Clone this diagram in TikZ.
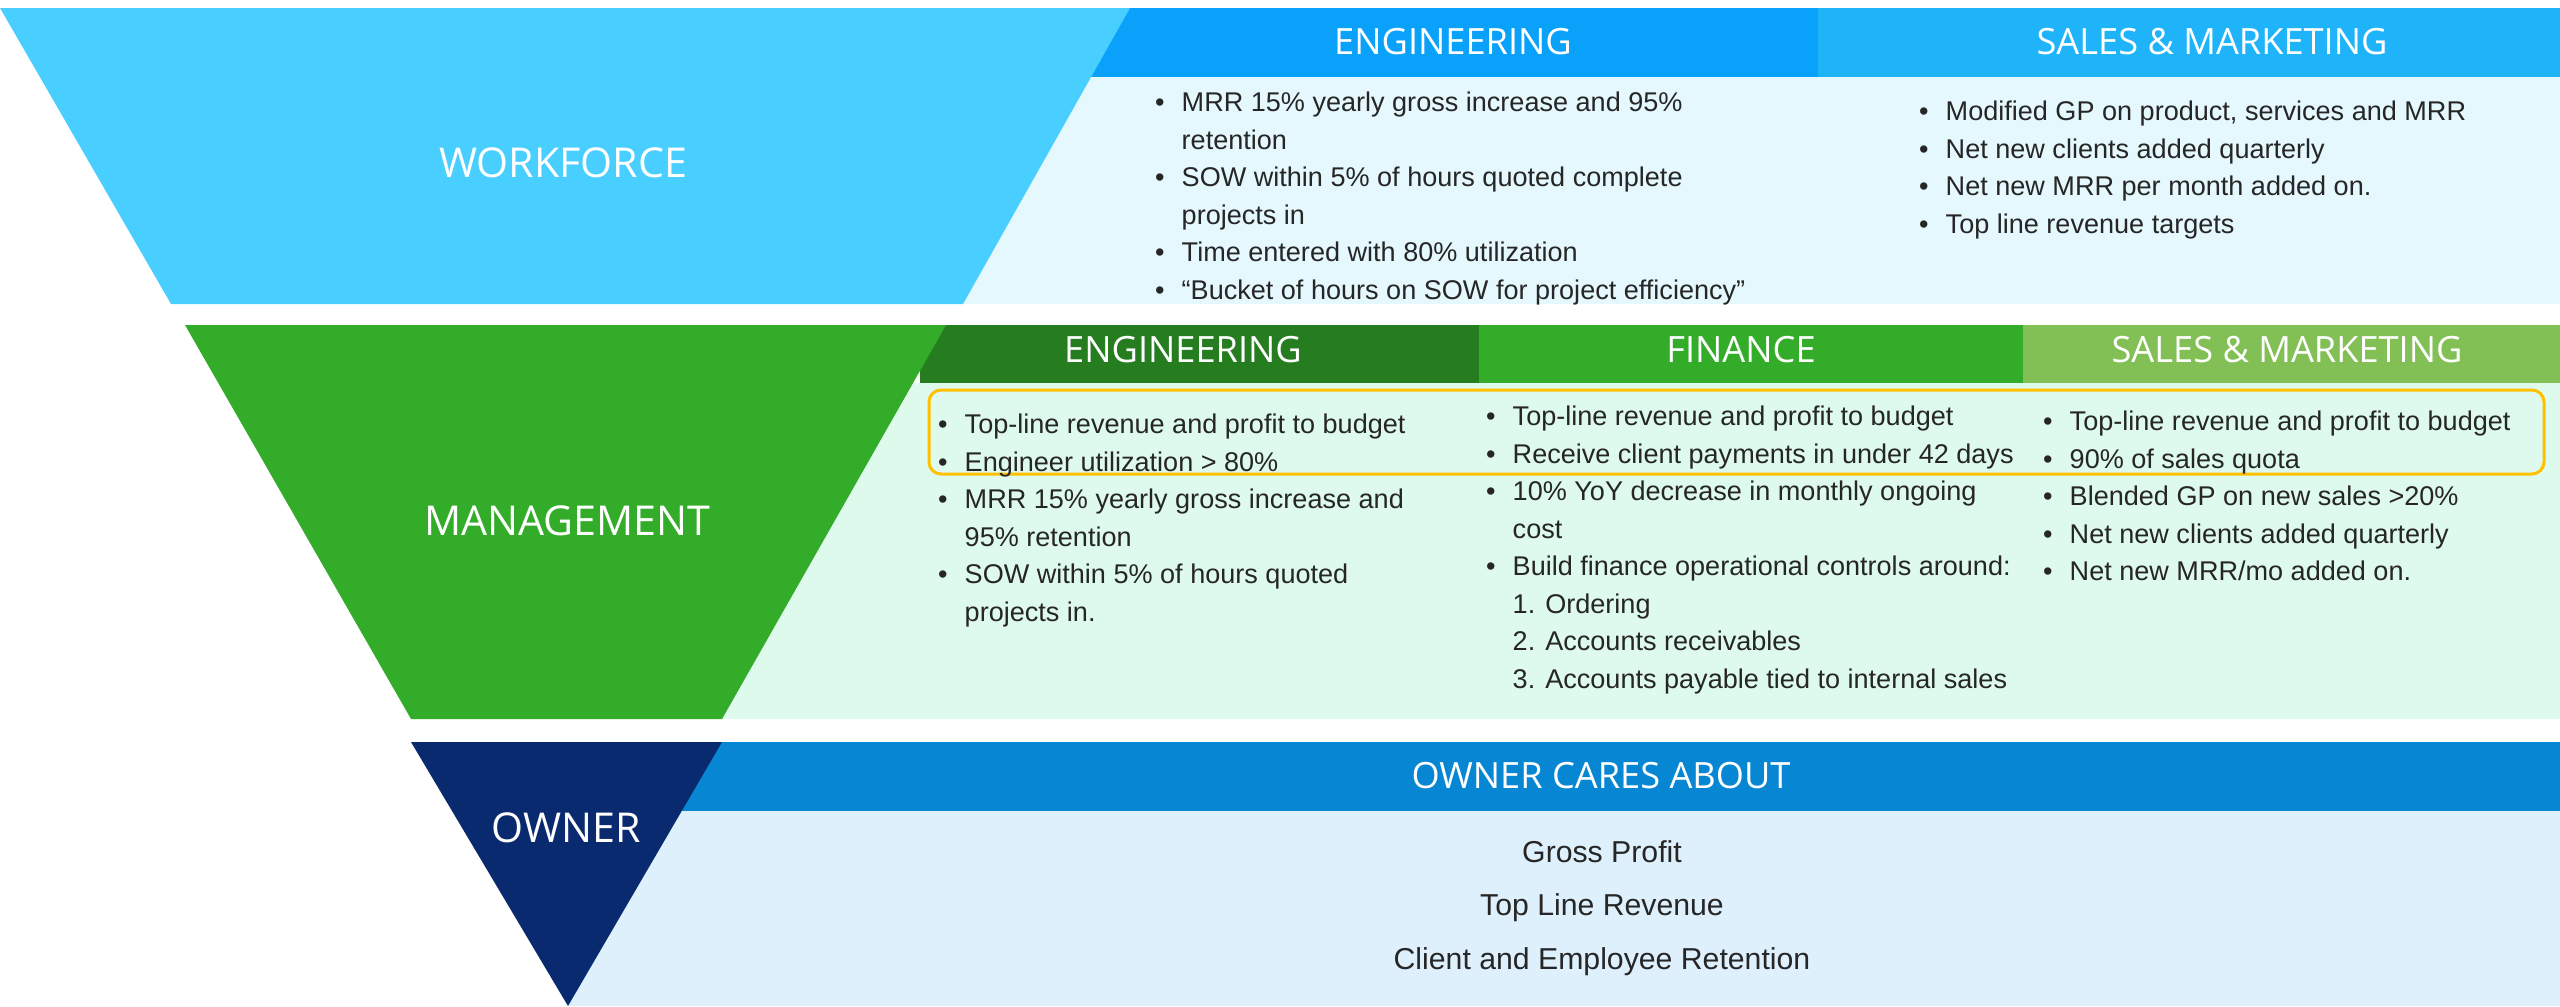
\documentclass[tikz,border=0pt]{standalone}
\usepackage{fontspec}
\setmainfont{Liberation Sans}
\newfontfamily\headfont{Open Sans}
\usepackage{xcolor}
\definecolor{wfband}{RGB}{73,207,255}
\definecolor{wfeng}{RGB}{10,161,250}
\definecolor{wfsales}{RGB}{31,180,250}
\definecolor{wfbody}{RGB}{229,248,253}
\definecolor{mgband}{RGB}{51,173,41}
\definecolor{mgeng}{RGB}{38,125,32}
\definecolor{mgsales}{RGB}{130,192,85}
\definecolor{mgbody}{RGB}{222,250,236}
\definecolor{owband}{RGB}{9,42,110}
\definecolor{owhead}{RGB}{7,135,211}
\definecolor{owbody}{RGB}{221,240,252}
\definecolor{keyline}{RGB}{255,192,0}
\definecolor{txtgray}{RGB}{38,38,38}
\tikzset{
	headtxt/.style={white, inner sep=0pt, font=\headfont\fontsize{10.3}{12}\selectfont},
	tiertxt/.style={white, inner sep=0pt, font=\headfont\fontsize{11.7}{14}\selectfont},
	itemtxt/.style={anchor=north west, inner sep=0pt, align=left, text=txtgray,
			font=\fontsize{7.7}{10.67}\selectfont},
	ownertxt/.style={inner sep=0pt, align=center, text=txtgray,
			font=\fontsize{8.6}{15.2}\selectfont}
}
\newcommand{\bitem}[1]{\makebox[0.265cm][l]{\textbullet}#1\strut}
\newcommand{\citem}[1]{\hspace*{0.265cm}#1\strut}

\begin{document}
\begin{tikzpicture}
        \useasboundingbox (0, 0) rectangle (25.6, 10.06);
        \fill [wfbody] (9.5, 9.29) rectangle (25.6, 7.02);
        \fill [wfeng] (10.9, 9.98) rectangle (18.18, 9.29);
        \fill [wfsales] (18.18, 9.98) rectangle (25.6, 9.29);
        \fill [wfband] (0, 9.98) -- (11.30, 9.98) -- (9.63, 7.02) -- (1.71, 7.02) -- cycle;
        \node [tiertxt] (workforce) at (5.63, 8.43) {WORKFORCE};
        \node [headtxt] (wfenghead) at (14.53, 9.64) {ENGINEERING};
        \node [headtxt] (wfsaleshead) at (22.12, 9.64) {SALES \& MARKETING};
        \node [itemtxt] (wfenglist) at (11.545, 9.21) {\bitem{MRR 15\% yearly gross increase and 95\%}\\
                \citem{retention}\\
                \bitem{SOW within 5\% of hours quoted complete}\\
                \citem{projects in}\\
                \bitem{Time entered with 80\% utilization}\\
                \bitem{“Bucket of hours on SOW for project efficiency”}};
        \node [itemtxt] (wfsaleslist) at (19.185, 9.12) {\bitem{Modified GP on product, services and MRR}\\
                \bitem{Net new clients added quarterly}\\
                \bitem{Net new MRR per month added on.}\\
                \bitem{Top line revenue targets}};

        \fill [mgbody] (7.1, 6.23) rectangle (25.6, 2.87);
        \fill [mgeng] (9.2, 6.81) rectangle (14.79, 6.23);
        \fill [mgband] (14.79, 6.81) rectangle (20.23, 6.23);
        \fill [mgsales] (20.23, 6.81) rectangle (25.6, 6.23);
        \fill [mgband] (1.85, 6.81) -- (9.46, 6.81) -- (7.22, 2.87) -- (4.11, 2.87) -- cycle;
        \node [tiertxt] (management) at (5.67, 4.85) {MANAGEMENT};
        \node [headtxt] (mgenghead) at (11.83, 6.56) {ENGINEERING};
        \node [headtxt] (mgfinhead) at (17.41, 6.56) {FINANCE};
        \node [headtxt] (mgsaleshead) at (22.87, 6.56) {SALES \& MARKETING};
        \draw [keyline, line width=0.85pt, rounded corners=0.12cm] (9.29, 6.16) rectangle (25.44, 5.32);
        \node [itemtxt] (mgenglist) at (9.375, 5.99) {\bitem{Top-line revenue and profit to budget}\\
                \bitem{Engineer utilization > 80\%}\\
                \bitem{MRR 15\% yearly gross increase and}\\
                \citem{95\% retention}\\
                \bitem{SOW within 5\% of hours quoted}\\
                \citem{projects in.}};
        \node [itemtxt] (mgfinlist) at (14.855, 6.07) {\bitem{Top-line revenue and profit to budget}\\
                \bitem{Receive client payments in under 42 days}\\
                \bitem{10\% YoY decrease in monthly ongoing}\\
                \citem{cost}\\
                \bitem{Build finance operational controls around:}\\
                \citem{1. Ordering}\\
                \citem{2. Accounts receivables}\\
                \citem{3. Accounts payable tied to internal sales}};
        \node [itemtxt] (mgsaleslist) at (20.425, 6.02) {\bitem{Top-line revenue and profit to budget}\\
                \bitem{90\% of sales quota}\\
                \bitem{Blended GP on new sales >20\%}\\
                \bitem{Net new clients added quarterly}\\
                \bitem{Net new MRR/mo added on.}};

        \fill [owbody] (5.68, 1.95) rectangle (25.6, 0);
        \fill [owhead] (6.7, 2.64) rectangle (25.6, 1.95);
        \fill [owband] (4.11, 2.64) -- (7.22, 2.64) -- (5.68, 0) -- cycle;
        \node [tiertxt] (owner) at (5.66, 1.78) {OWNER};
        \node [headtxt] (owhead) at (16.01, 2.30) {OWNER CARES ABOUT};
        \node [ownertxt] (owlist) at (16.02, 1.01) {\strut Gross Profit\\
                \strut Top Line Revenue\\
                \strut Client and Employee Retention};
    \end{tikzpicture}
\end{document}
